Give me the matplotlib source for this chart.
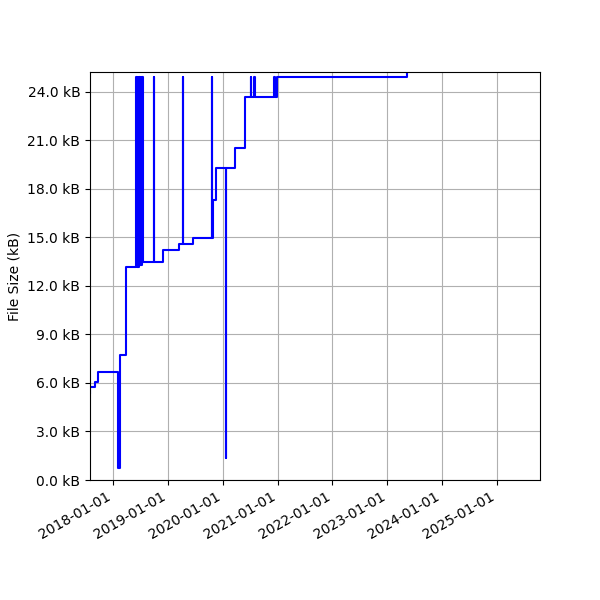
import numpy as np
import pandas as pd
import matplotlib
matplotlib.use("Agg")
import matplotlib.pyplot as plt
import matplotlib.dates as mdates
from matplotlib.ticker import MultipleLocator, FuncFormatter

# commit dates and file size (kB), drawn as a post-step line
dates = ["2017-07-31", "2017-08-03", "2017-09-03", "2017-09-23", "2018-02-03",
         "2018-02-16", "2018-03-29", "2018-06-03", "2018-06-06", "2018-06-13",
         "2018-06-16", "2018-06-23", "2018-06-26", "2018-07-03", "2018-07-06",
         "2018-07-13", "2018-07-18", "2018-09-28", "2018-10-01", "2018-11-30",
         "2019-03-16", "2019-04-10", "2019-04-13", "2019-06-18", "2019-10-20",
         "2019-10-24", "2019-10-29", "2019-11-18", "2020-01-23", "2020-01-26",
         "2020-03-23", "2020-05-29", "2020-07-06", "2020-07-09", "2020-07-28",
         "2020-07-31", "2020-12-08", "2020-12-11", "2020-12-28", "2023-05-11",
         "2025-10-20"]
size_kb = [5.40, 5.75, 6.05, 6.68, 0.74,
           7.73, 13.17, 24.9, 13.17, 24.9,
           13.2, 24.9, 13.3, 24.9, 13.3,
           24.9, 13.48, 24.9, 13.48, 14.2,
           14.6, 24.9, 14.6, 14.95, 24.9,
           14.95, 17.3, 19.3, 1.35, 19.3,
           20.5, 23.7, 24.9, 23.7, 24.9,
           23.7, 24.9, 23.7, 24.92, 26.5,
           26.5]

x = pd.to_datetime(dates)

fig = plt.figure(figsize=(6, 6), dpi=100)
ax = fig.add_axes([0.15, 0.2, 0.75, 0.68])
ax.plot(x, size_kb, drawstyle="steps-post", color="blue")

ax.set_ylim(0, 25.23)
ax.set_xlim(pd.Timestamp("2017-07-31"), pd.Timestamp("2025-10-14"))
ax.yaxis.set_major_locator(MultipleLocator(3))
ax.yaxis.set_major_formatter(FuncFormatter(lambda v, p: "%.1f kB" % v))
ax.xaxis.set_major_locator(mdates.YearLocator())
ax.xaxis.set_major_formatter(mdates.DateFormatter("%Y-%m-%d"))
for lab in ax.get_xticklabels():
    lab.set_rotation(30)
    lab.set_ha("right")
ax.set_ylabel("File Size (kB)")
ax.grid(True)

fig.savefig("out.png")
